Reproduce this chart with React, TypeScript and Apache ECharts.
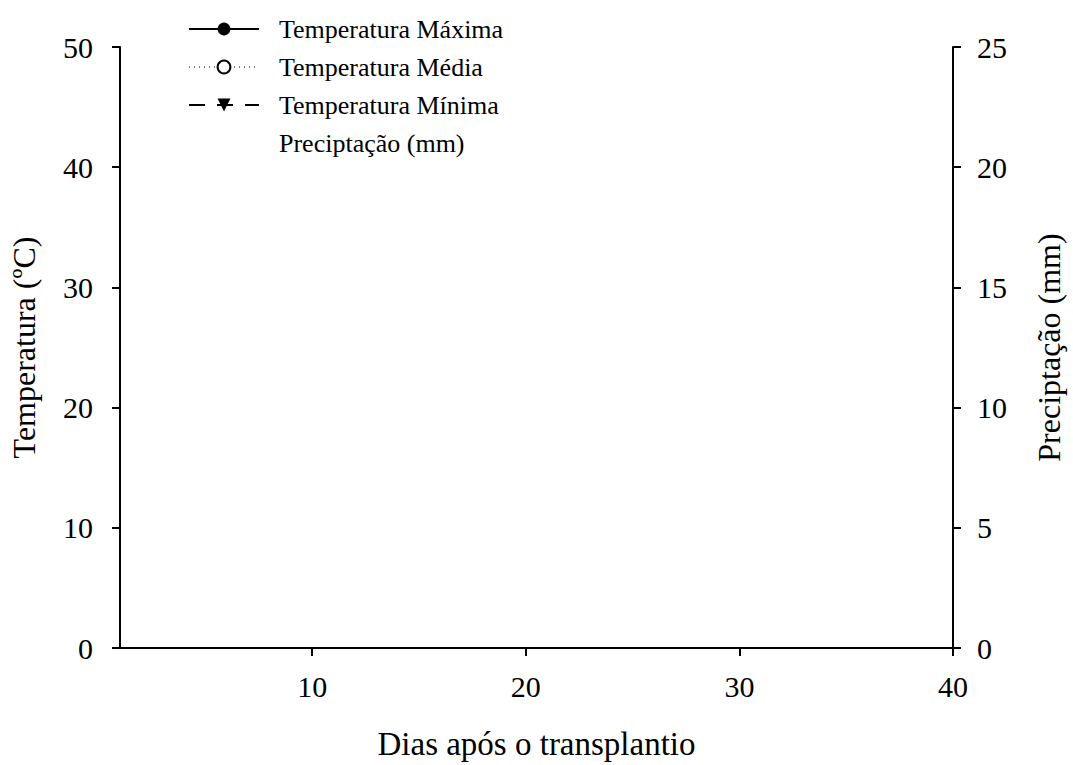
import React, { useEffect, useRef } from "react";
import * as echarts from "echarts";

const seriesNames = ["Temperatura Máxima", "Temperatura Média", "Temperatura Mínima", "Preciptação (mm)"];
const days: number[] = [];
const tempMax: number[] = [];
const tempMed: number[] = [];
const tempMin: number[] = [];
const precip: number[] = [];
const xTicks = [10, 20, 30, 40];

const FONT = "Liberation Serif";

export default function App() {
  const ref = useRef<HTMLDivElement>(null);
  useEffect(() => {
    if (!ref.current) return;
    const chart = echarts.init(ref.current, undefined, { renderer: "svg" });
    const axisCommon = {
      axisLine: { show: true, lineStyle: { color: "#000", width: 2 } },
      axisTick: { show: true, inside: false, length: 8, lineStyle: { color: "#000", width: 2 } },
      splitLine: { show: false },
      nameTextStyle: { fontFamily: FONT, fontSize: 32, color: "#000" },
    };
    const labelStyle = { fontFamily: FONT, fontSize: 30, color: "#000" };
    chart.setOption({
      animation: false,
      backgroundColor: "#fff",
      grid: { left: 120, right: 115, top: 47, bottom: 116, containLabel: false },
      legend: {
        orient: "vertical",
        left: 183,
        top: 9,
        itemWidth: 70,
        itemHeight: 16,
        itemGap: 8,
        textStyle: { fontFamily: FONT, fontSize: 26, lineHeight: 30, color: "#000", padding: [0, 0, 0, 15] },
        data: seriesNames.map((n, i) => (i === 3 ? { name: n, icon: "none" } : { name: n })),
      },
      xAxis: {
        type: "value",
        min: 1,
        max: 40,
        name: "Dias após o transplantio",
        nameLocation: "middle",
        nameGap: 79,
        ...axisCommon,
        nameTextStyle: { ...axisCommon.nameTextStyle, fontSize: 33 },
        axisTick: { ...axisCommon.axisTick, customValues: xTicks },
        axisLabel: { ...labelStyle, margin: 23, customValues: xTicks },
      },
      yAxis: [
        {
          type: "value",
          min: 0,
          max: 50,
          interval: 10,
          position: "left",
          name: "Temperatura (ºC)",
          nameLocation: "middle",
          nameGap: 80,
          ...axisCommon,
          axisLabel: { ...labelStyle, margin: 27 },
        },
        {
          type: "value",
          min: 0,
          max: 25,
          interval: 5,
          position: "right",
          name: "Preciptação (mm)",
          nameLocation: "middle",
          nameGap: 80,
          nameRotate: 90,
          ...axisCommon,
          axisLabel: { ...labelStyle, margin: 24 },
        },
      ],
      series: [
        {
          name: seriesNames[0],
          type: "line",
          data: days.map((d, i) => [d, tempMax[i]]),
          symbol: "circle",
          symbolSize: 13,
          itemStyle: { color: "#000" },
          lineStyle: { color: "#000", width: 2, type: "solid" },
        },
        {
          name: seriesNames[1],
          type: "line",
          data: days.map((d, i) => [d, tempMed[i]]),
          symbol: "emptyCircle",
          symbolSize: 13,
          itemStyle: { color: "#000" },
          lineStyle: { color: "#777", width: 1, type: [1, 4] },
        },
        {
          name: seriesNames[2],
          type: "line",
          data: days.map((d, i) => [d, tempMin[i]]),
          symbol: "path://M0,0 L10,0 L5,10 Z",
          symbolSize: 13,
          itemStyle: { color: "#000" },
          lineStyle: { color: "#000", width: 2, type: [16, 12] },
        },
        {
          name: seriesNames[3],
          type: "bar",
          yAxisIndex: 1,
          data: days.map((d, i) => [d, precip[i]]),
          itemStyle: { color: "rgba(0,0,0,0)" },
        },
      ],
    });
    return () => chart.dispose();
  }, []);
  return (
    <div
      ref={ref}
      style={{ position: "fixed", left: 0, top: 0, width: 1073, height: 765, background: "#fff" }}
    />
  );
}
